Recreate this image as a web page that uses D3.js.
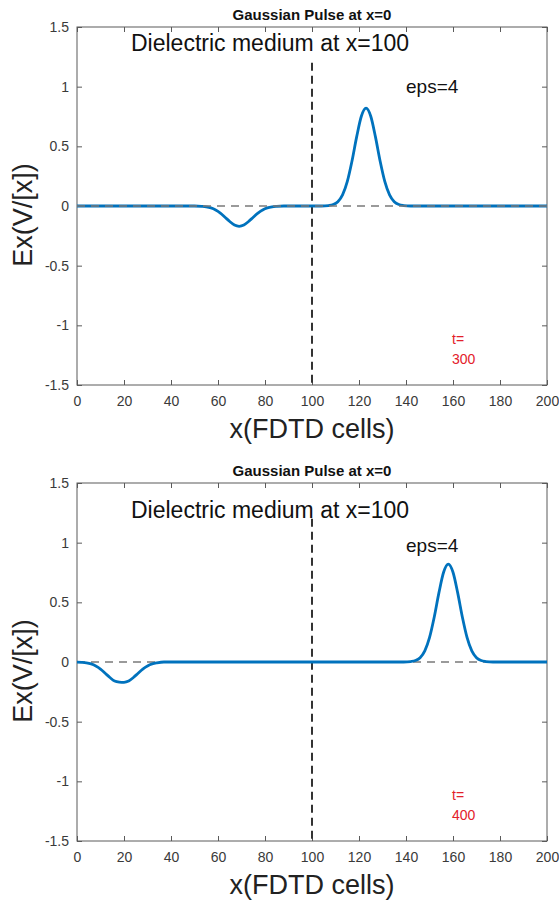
<!DOCTYPE html>
<html>
<head>
<meta charset="utf-8">
<script src="https://cdn.jsdelivr.net/npm/d3@7"></script>
<style>
  html, body { margin: 0; padding: 0; background: #fff; }
  svg { display: block; font-family: "Liberation Sans", Arial, Helvetica, sans-serif; }
</style>
</head>
<body>
<svg id="chart" width="559" height="905"></svg>
<script>
// Tick values and labels shared by both panels
const xTicks = [0, 20, 40, 60, 80, 100, 120, 140, 160, 180, 200];
const yTicks = [-1.5, -1, -0.5, 0, 0.5, 1, 1.5];
const yTickLabels = ["-1.5", "-1", "-0.5", "0", "0.5", "1", "1.5"];

// Field snapshot at t = 300 (cell index, Ex)
const t300X = [0, 50, 53, 55, 57, 59, 61, 63, 65, 67, 69, 71, 73, 75, 77, 79, 81, 83, 85, 88,
               104, 107, 109, 111, 113, 115, 117, 119, 121, 123, 125, 127, 129, 131, 133, 135, 137, 139, 142, 200];
const t300Y = [0, 0, -0.003, -0.007, -0.016, -0.033, -0.059, -0.094, -0.130, -0.159, -0.170, -0.159, -0.130, -0.094, -0.059, -0.033, -0.016, -0.007, -0.003, 0,
               0, 0.004, 0.012, 0.036, 0.093, 0.204, 0.375, 0.579, 0.752, 0.820, 0.752, 0.579, 0.375, 0.204, 0.093, 0.036, 0.012, 0.004, 0, 0];

// Field snapshot at t = 400 (cell index, Ex)
const t400X = [0, 2, 4, 6, 8, 10, 12, 14, 16, 18, 20, 22, 24, 26, 28, 30, 32, 34, 37,
               139, 142, 144, 146, 148, 150, 152, 154, 156, 158, 160, 162, 164, 166, 168, 170, 172, 174, 177, 200];
const t400Y = [-0.001, -0.003, -0.007, -0.016, -0.033, -0.059, -0.094, -0.130, -0.159, -0.168, -0.170, -0.159, -0.130, -0.094, -0.059, -0.033, -0.016, -0.007, 0,
               0, 0.004, 0.012, 0.036, 0.093, 0.204, 0.375, 0.579, 0.752, 0.820, 0.752, 0.579, 0.375, 0.204, 0.093, 0.036, 0.012, 0.004, 0, 0];

const panels = [
  { top: 27,  xs: t300X, ys: t300Y, time: "300", dashOnTop: true,  mediumY: 1.30, epsY: 0.947 },
  { top: 483, xs: t400X, ys: t400Y, time: "400", dashOnTop: false, mediumY: 1.207, epsY: 0.925 }
];

const svg = d3.select("#chart");
const left = 77, width = 470, height = 358;
const axisColor = "#5a5a5a", textColor = "#3a3a3a";

panels.forEach(p => {
  const g = svg.append("g").attr("transform", `translate(${left},${p.top})`);
  const x = d3.scaleLinear().domain([0, 200]).range([0, width]);
  const y = d3.scaleLinear().domain([-1.5, 1.5]).range([height, 0]);

  // axes box with inward ticks on all four sides
  const styleAxis = sel => {
    sel.select(".domain").remove();
    sel.selectAll(".tick line").attr("stroke", axisColor).attr("stroke-width", 1);
    sel.selectAll(".tick text").attr("fill", textColor).attr("font-size", 14)
      .attr("font-family", "Liberation Sans, Arial, sans-serif");
  };
  g.append("g").attr("transform", `translate(0,${height})`)
    .call(d3.axisBottom(x).tickValues(xTicks).tickSize(-5).tickPadding(11).tickFormat(d3.format("d")))
    .call(styleAxis);
  g.append("g")
    .call(d3.axisTop(x).tickValues(xTicks).tickSize(-5).tickFormat(""))
    .call(styleAxis);
  g.append("g")
    .call(d3.axisLeft(y).tickValues(yTicks).tickSize(-5).tickPadding(8).tickFormat((d, i) => yTickLabels[i]))
    .call(styleAxis);
  g.append("g").attr("transform", `translate(${width},0)`)
    .call(d3.axisRight(y).tickValues(yTicks).tickSize(-5).tickFormat(""))
    .call(styleAxis);
  g.append("rect").attr("width", width).attr("height", height)
    .attr("fill", "none").attr("stroke", axisColor).attr("stroke-width", 1);

  // zero reference line
  const zeroLine = () => g.append("line")
    .attr("x1", x(0)).attr("x2", x(200)).attr("y1", y(0)).attr("y2", y(0))
    .attr("stroke", "#7a7a7a").attr("stroke-width", 1.3).attr("stroke-dasharray", "8,6");

  // dielectric boundary
  g.append("line")
    .attr("x1", x(100)).attr("x2", x(100)).attr("y1", y(1.2)).attr("y2", y(-1.5))
    .attr("stroke", "#333").attr("stroke-width", 2).attr("stroke-dasharray", "8,5");

  if (!p.dashOnTop) zeroLine();

  const pts = p.xs.map((v, i) => [v, p.ys[i]]);
  g.append("path").datum(pts)
    .attr("fill", "none").attr("stroke", "#0072BD").attr("stroke-width", 2.8)
    .attr("stroke-linejoin", "round")
    .attr("d", d3.line().x(d => x(d[0])).y(d => y(d[1])).curve(d3.curveMonotoneX));

  if (p.dashOnTop) zeroLine();

  // annotations
  g.append("text").attr("x", 131 - left).attr("y", y(p.mediumY))
    .attr("font-size", 23).attr("fill", "#111").text("Dielectric medium at x=100");
  g.append("text").attr("x", 406 - left).attr("y", y(p.epsY))
    .attr("font-size", 19).attr("fill", "#111").text("eps=4");
  g.append("text").attr("x", 452 - left).attr("y", y(-1.16))
    .attr("font-size", 14).attr("fill", "#e3202a").text("t=");
  g.append("text").attr("x", 452 - left).attr("y", y(-1.328))
    .attr("font-size", 14).attr("fill", "#e3202a").text(p.time);

  // title
  g.append("text").attr("x", width / 2).attr("y", -7).attr("text-anchor", "middle")
    .attr("font-size", 15).attr("font-weight", "bold").attr("fill", "#111")
    .text("Gaussian Pulse at x=0");

  // axis labels
  g.append("text").attr("x", width / 2).attr("y", height + 53).attr("text-anchor", "middle")
    .attr("font-size", 27).attr("fill", "#222").text("x(FDTD cells)");
  g.append("text").attr("transform", `translate(${32 - left},${height / 2 + 9}) rotate(-90)`)
    .attr("text-anchor", "middle").attr("font-size", 27).attr("fill", "#222").text("Ex(V/[x])");
});
</script>
</body>
</html>
